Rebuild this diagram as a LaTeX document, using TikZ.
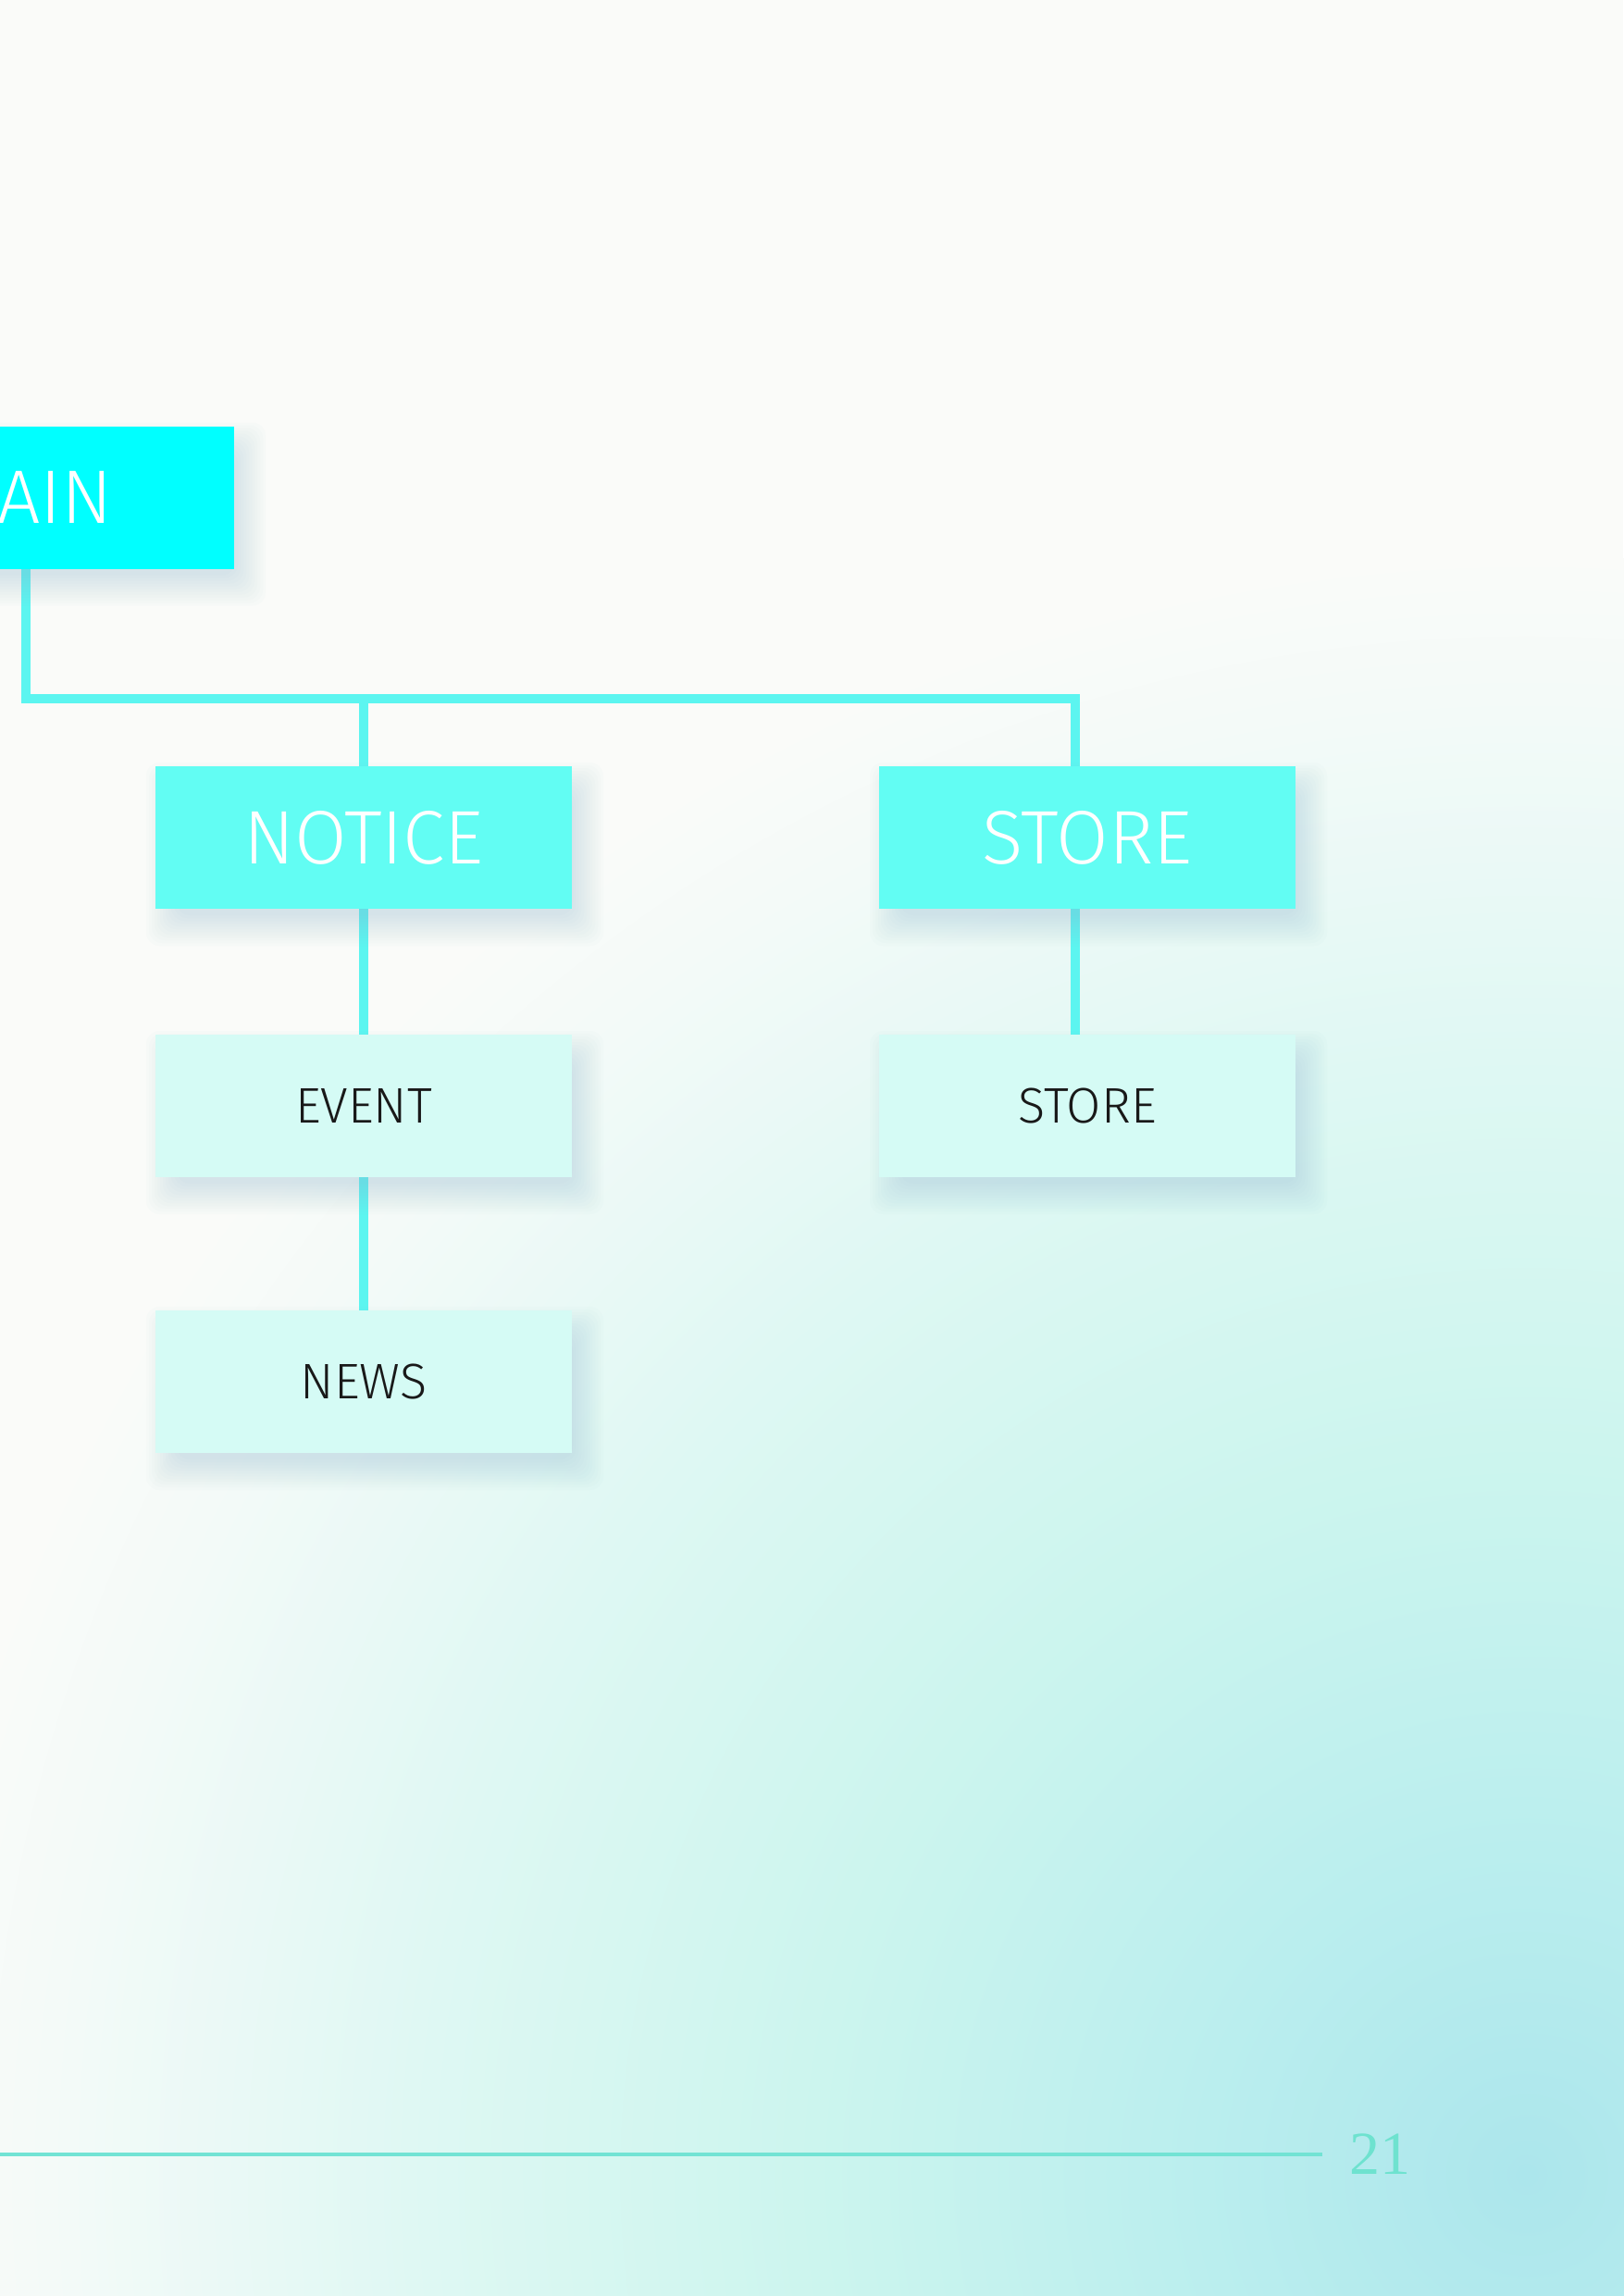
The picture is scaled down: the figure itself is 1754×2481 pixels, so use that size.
\documentclass[tikz,border=0pt]{standalone}
\usepackage{fontspec}
\setmainfont{Fira Sans}[UprightFont={* Light}]
\newfontfamily\numfont{Liberation Serif}
\pgfdeclarelayer{wash}
\pgfdeclarelayer{wires}
\pgfdeclarelayer{shade}
\pgfsetlayers{wash,wires,shade,main}
\definecolor{bgc}{RGB}{250,251,249}
\definecolor{wc0}{RGB}{172,230,236}
\definecolor{wc1}{RGB}{186,238,238}
\definecolor{wc2}{RGB}{204,245,238}
\definecolor{wc3}{RGB}{222,248,243}
\definecolor{wc4}{RGB}{243,250,248}
\definecolor{mainfill}{RGB}{0,255,255}
\definecolor{topfill}{RGB}{98,253,243}
\definecolor{subfill}{RGB}{213,251,245}
\definecolor{wirec}{RGB}{92,245,240}
\definecolor{footc}{RGB}{114,227,212}
\definecolor{numc}{RGB}{110,226,207}
\definecolor{shc}{RGB}{140,180,205}
\pgfdeclareradialshading{watercolor}{\pgfpoint{0bp}{0bp}}{color(0bp)=(wc0); color(5bp)=(wc1); color(11bp)=(wc2); color(17bp)=(wc3); color(22.5bp)=(wc4); color(25bp)=(bgc); color(50bp)=(bgc)}
\tikzset{
  box/.style={minimum width=450pt, minimum height=154pt, inner sep=0pt, outer sep=0pt},
  rootbox/.style={box, fill=mainfill, text=white, font=\fontsize{82}{90}\selectfont},
  topbox/.style={box, fill=topfill, text=white, font=\fontsize{82}{90}\selectfont},
  subbox/.style={box, fill=subfill, text=black!90, font=\fontsize{54}{60}\selectfont},
  wire/.style={draw=wirec, line width=10pt},
  footline/.style={draw=footc, line width=4.5pt},
}
\begin{document}
\begin{tikzpicture}[x=1pt, y=-1pt]
\useasboundingbox (0,0) rectangle (1754,2481);
% nodes
\node[rootbox] (main) at (28,537.5) {MAIN};
\node[topbox] (notice) at (393,905) {NOTICE};
\node[topbox] (storeTop) at (1175,905) {STORE};
\node[subbox] (event) at (393,1195) {EVENT};
\node[subbox] (storeSub) at (1175,1195) {STORE};
\node[subbox] (news) at (393,1493) {NEWS};
\node[text=numc, font=\numfont\fontsize{66}{70}\selectfont, inner sep=0pt] (pagenum) at (1491,2328) {21};
\coordinate (busL) at (28,755);
\coordinate (busR) at (1162,755);
\coordinate (footL) at (0,2328);
\coordinate (footR) at (1429,2328);
% background wash
\begin{pgfonlayer}{wash}
  \fill[bgc] (0,0) rectangle (1754,2481);
  \shade[shading=watercolor] (1650,2350) circle (1750pt);
\end{pgfonlayer}
% connectors
\begin{pgfonlayer}{wires}
  \draw[wire] (main.south) -- (busL) -- (busR) -- (busR |- storeTop.north);
  \draw[wire] (notice.north) -- (notice.north |- busL);
  \draw[wire] (notice.south) -- (event.north);
  \draw[wire] (event.south) -- (news.north);
  \draw[wire] (busR |- storeTop.south) -- (busR |- storeSub.north);
  \draw[footline] (footL) -- (footR);
\end{pgfonlayer}
% soft shadows
\begin{pgfonlayer}{shade}
  \foreach \n in {main,notice,storeTop,event,storeSub,news}{
    \foreach \e [evaluate=\e as \ax using 12-\e, evaluate=\e as \ay using 18-\e,
                 evaluate=\e as \bx using 12+\e, evaluate=\e as \by using 18+\e] in {22,19,...,-11}{
      \fill[shc, opacity=0.028, rounded corners=14pt]
        ([shift={(\ax,\ay)}]\n.north west) rectangle ([shift={(\bx,\by)}]\n.south east);
    }
  }
\end{pgfonlayer}
\end{tikzpicture}
\end{document}
